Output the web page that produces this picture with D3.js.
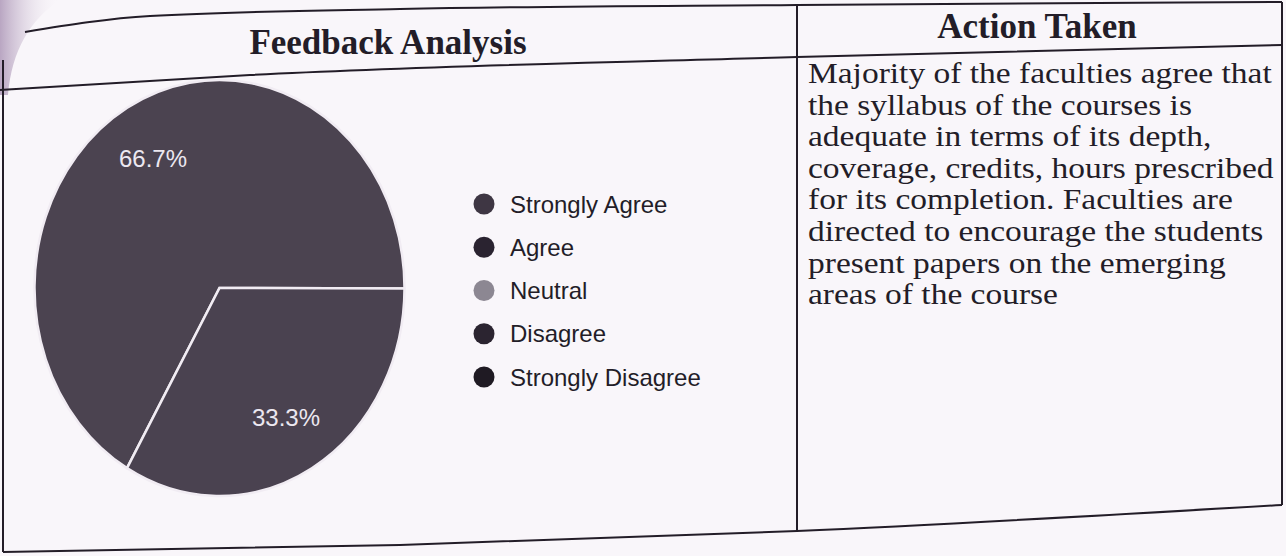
<!DOCTYPE html>
<html>
<head>
<meta charset="utf-8">
<script src="https://cdn.jsdelivr.net/npm/d3@7"></script>
<style>
  html, body { margin: 0; padding: 0; background: #f9f6fa; }
  svg { display: block; }
</style>
</head>
<body>
<svg id="chart" width="1286" height="556"></svg>
<script>
// ---- data ----
const categories = ["Strongly Agree", "Agree", "Neutral", "Disagree", "Strongly Disagree"];
const percentages = [66.7, 33.3, 0, 0, 0];
const sliceColors = ["#4b4350", "#4a4250", "#8c8792", "#2b2430", "#221c26"];
const legendColors = ["#3e3643", "#2a2330", "#8c8792", "#2b2430", "#1f1a23"];
const headers = ["Feedback Analysis", "Action Taken"];
const actionLines = [
  "Majority of the faculties agree that",
  "the syllabus of the courses is",
  "adequate in terms of its depth,",
  "coverage, credits, hours prescribed",
  "for its completion. Faculties are",
  "directed to encourage the students",
  "present papers on the emerging",
  "areas of the course"
];

const svg = d3.select("#chart");
const ink = "#231d28";

// page curl shading at top-left corner
const defs = svg.append("defs");
const grad = defs.append("linearGradient").attr("id", "curl").attr("x1", 0).attr("x2", 1);
grad.append("stop").attr("offset", 0).attr("stop-color", "#b9a6c2");
grad.append("stop").attr("offset", 1).attr("stop-color", "#f9f6fa").attr("stop-opacity", 0);
svg.append("path").attr("d", "M0,0 L60,0 C30,20 12,50 8,95 L0,95 Z").attr("fill", "url(#curl)");

// ---- table frame (photographed page, slightly curved) ----
const line = d3.line().curve(d3.curveMonotoneX);
const frame = svg.append("g").attr("fill", "none").attr("stroke", ink).attr("stroke-width", 2);
frame.append("path").attr("d", line([[25, 32], [150, 16], [400, 9], [797, 5], [1282, 2]]));
frame.append("path").attr("d", line([[0, 90], [250, 75], [797, 57], [1282, 45]]));
frame.append("path").attr("d", line([[3, 552], [400, 545], [797, 531], [1282, 505]]));
frame.append("line").attr("x1", 3).attr("y1", 60).attr("x2", 3).attr("y2", 552);
frame.append("line").attr("x1", 797).attr("y1", 5).attr("x2", 797).attr("y2", 531);
frame.append("line").attr("x1", 1282).attr("y1", 2).attr("x2", 1282).attr("y2", 505);

// headers
svg.append("text").attr("x", 388).attr("y", 54).attr("text-anchor", "middle")
  .attr("font-family", "Liberation Serif, serif").attr("font-weight", "bold")
  .attr("font-size", 35).attr("fill", ink).text(headers[0]);
svg.append("text").attr("x", 1037).attr("y", 38).attr("text-anchor", "middle")
  .attr("font-family", "Liberation Serif, serif").attr("font-weight", "bold")
  .attr("font-size", 35).attr("fill", ink).text(headers[1]);

// action text
svg.append("g").attr("transform", "translate(808,0) scale(1.175,1)")
  .selectAll("text").data(actionLines).join("text")
  .attr("x", 0).attr("y", (d, i) => 83 + i * 31.6)
  .attr("font-family", "Liberation Serif, serif").attr("font-size", 28.5)
  .attr("fill", ink).text(d => d);

// ---- pie ----
const cx = 219.5, cy = 288, rx = 185, ry = 208;
const data = categories.map((c, i) => ({ c, v: percentages[i], color: sliceColors[i] }));
const pie = d3.pie().value(d => d.v).sort(null)
  .startAngle(7 * Math.PI / 6).endAngle(7 * Math.PI / 6 + 2 * Math.PI);
const arcs = pie(data).filter(d => d.data.v > 0);
const arc = d3.arc().innerRadius(0).outerRadius(rx);
const labelArc = d3.arc().innerRadius(rx * 0.72).outerRadius(rx * 0.72);

const pg = svg.append("g").attr("transform", `translate(${cx},${cy}) scale(1,${ry / rx})`);
pg.selectAll("path").data(arcs).join("path")
  .attr("d", arc).attr("fill", d => d.data.color)
  .attr("stroke", "#f1ecf3").attr("stroke-width", 2.5)
  .attr("vector-effect", "non-scaling-stroke");

svg.append("g").selectAll("text").data(arcs).join("text")
  .attr("transform", d => {
    const [x, y] = labelArc.centroid(d);
    return `translate(${cx + x},${cy + y * ry / rx})`;
  })
  .attr("text-anchor", "middle").attr("dy", "0.36em")
  .attr("font-family", "Liberation Sans, Arial, sans-serif").attr("font-size", 24)
  .attr("fill", "#ece8f0")
  .text(d => d3.format(".1f")(d.data.v) + "%");

// ---- legend ----
const ly = d3.scalePoint().domain(categories).range([204, 377]);
const lg = svg.append("g").selectAll("g").data(categories).join("g")
  .attr("transform", d => `translate(484,${ly(d)})`);
lg.append("circle").attr("r", 10.5).attr("fill", (d, i) => legendColors[i]);
lg.append("text").attr("x", 26).attr("dy", "0.36em")
  .attr("font-family", "Liberation Sans, Arial, sans-serif").attr("font-size", 24)
  .attr("fill", ink).text(d => d);
</script>
</body>
</html>
